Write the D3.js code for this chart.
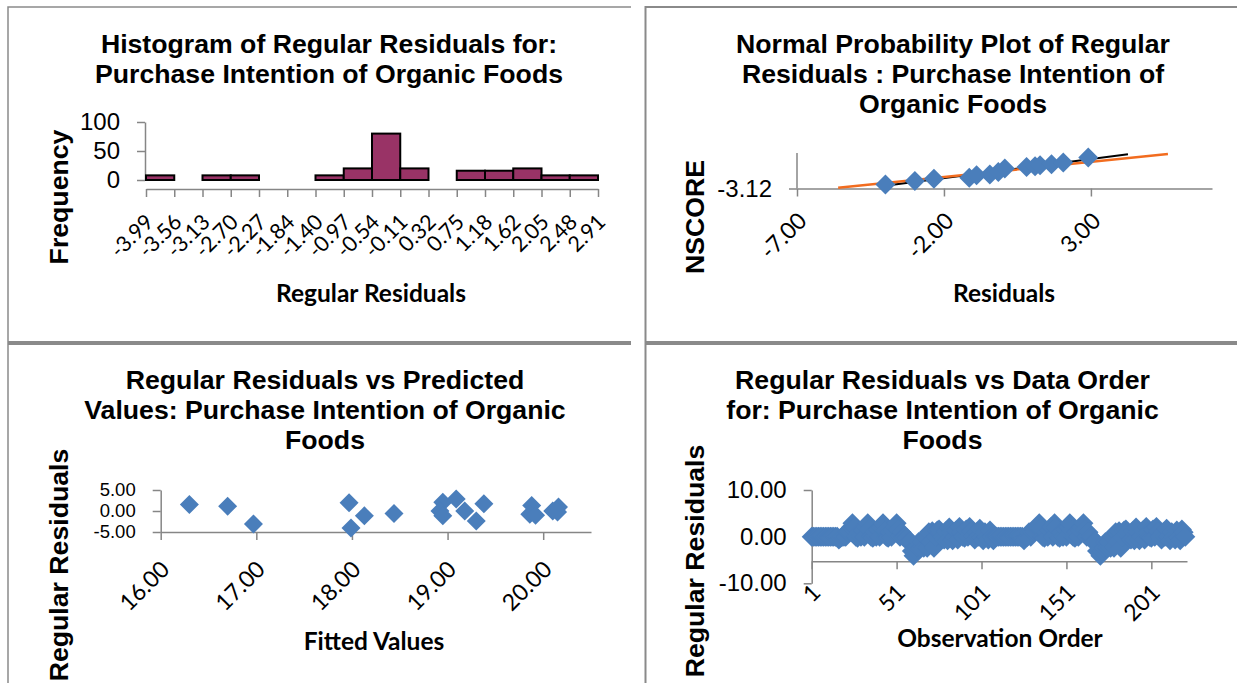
<!DOCTYPE html>
<html><head><meta charset="utf-8">
<script src="https://cdn.jsdelivr.net/npm/d3@7"></script>
<style>
html,body{margin:0;padding:0;background:#fff;overflow:hidden;}
</style></head><body>
<svg id="c" width="1237" height="683"></svg>
<script>
// ---------- data ----------
const histTitle = ["Histogram of Regular Residuals for:", "Purchase Intention of Organic Foods"];
const histEdgeLabels = ["-3.99","-3.56","-3.13","-2.70","-2.27","-1.84","-1.40","-0.97","-0.54","-0.11","0.32","0.75","1.18","1.62","2.05","2.48","2.91"];
const histCounts = [8,0,8,8,0,0,8,20,80,20,0,16,16,20,8,8];
const histYTicks = [0,50,100];

const npTitle = ["Normal Probability Plot of Regular", "Residuals : Purchase Intention of", "Organic Foods"];
const npResiduals = [-3.99,-2.99,-2.34,-1.14,-0.89,-0.44,-0.15,0.07,0.81,1.10,1.27,1.66,2.06,2.91];
const npScores    = [-2.41,-1.82,-1.39,-1.21,-0.80,-0.68,-0.21,0.39,0.68,0.80,0.98,1.16,1.46,2.35];
const npRefLineX = [-5.6, 5.62];
const npRefLineY = [-3.0, 2.94];
const npFitLineX = [-4.2, 4.26];
const npFitLineY = [-2.76, 2.89];
const npXTicks = [-7,-2,3];
const npYTicks = [-3.12];

const fvTitle = ["Regular Residuals vs Predicted", "Values: Purchase Intention of Organic", "Foods"];
const fittedValues    = [16.30,16.70,16.97,17.97,18.13,17.99,18.44,18.95,18.92,18.95,19.09,19.18,19.30,19.38,19.88,19.86,19.92,20.10,20.16,20.15];
const fittedResiduals = [1.55,1.16,-3.08,1.94,-1.16,-4.07,-0.60,2.08,0.00,-1.16,2.87,0.00,-2.38,1.71,1.32,-0.76,-1.00,0.00,0.93,-0.23];
const fvXTicks = [16,17,18,19,20];
const fvYTicks = [-5,0,5];

const orderTitle = ["Regular Residuals vs Data Order", "for: Purchase Intention of Organic", "Foods"];
const orderResiduals = [
 0,0,0,0,0,0,0,0,0,0,
 0,0,0,0,0,0,-0.6,-0.23,0,0,
 0,0.93,1.16,1.94,2.87,2.08,0,-0.23,0.93,0,
 1.32,0,2.08,2.87,1.71,0,-0.23,0.93,0,1.55,
 0,1.94,2.87,1.32,0,-0.23,0.93,0,1.32,2.08,
 2.87,1.55,0,0.93,0,0,-0.23,-1.16,-1.0,-3.08,
 -4.07,-3.08,-2.38,-1.16,-2.38,-1.16,-2.38,0,-2.38,0.93,
 -1.16,1.16,-2.38,0,1.32,1.55,0.93,0,-0.6,1.16,
 -0.76,1.94,0.93,-0.76,0,1.32,-0.6,2.08,0.93,0,
 -0.23,1.55,0,2.08,1.16,0,-0.6,0.93,0,1.71,
 0,-0.76,0.93,0,-0.6,1.32,0,-0.76,0,0,
 0,0,0,0,0,0,0,0,0,0,
 0,0,0,0,0,-0.76,0,0,0.93,0,
 0.93,1.16,1.94,2.08,2.87,1.71,0,-0.23,0.93,0,
 1.32,2.08,0,2.87,1.94,0,-0.23,0.93,0,1.55,
 0,2.08,2.87,1.32,0,-0.23,0.93,0,1.32,2.08,
 2.87,1.55,0,0.93,0,-0.23,-1.16,-1.0,-3.08,-3.08,
 -4.07,-3.08,-2.38,-1.16,-2.38,-1.16,-2.38,0,-2.38,0.93,
 -1.16,1.16,-2.38,0,1.32,1.55,0.93,0,-0.6,1.16,
 -0.76,1.94,0.93,-0.76,0,1.32,-0.6,2.08,0.93,0,
 -0.23,1.55,0,2.08,1.16,0,-0.6,0.93,0,1.71,
 0,-0.76,0.93,0,-0.6,1.32,0,-0.76,1.55,0.93,0
];
const orderXTicks = [1,51,101,151,201];
const orderYTicks = [-10,0,10];

// ---------- style ----------
const AX = "#868686";
const FRAME = "#8a8a8a";
const BLUE = "#4a7ebb";
const BAR = "#993366";
const ARIAL = "'Liberation Sans', Arial, sans-serif";
const CALIBRI = "Lato, 'Liberation Sans', sans-serif";

const svg = d3.select("#c");
svg.append("rect").attr("width",1237).attr("height",683).attr("fill","#fff");

// panel frames
const fr = svg.append("g").attr("stroke",FRAME).attr("fill","none");
fr.append("path").attr("d","M8,683 V7 H631").attr("stroke-width",1.5);
fr.append("path").attr("d","M645.5,683 V7 H1237").attr("stroke-width",2);
svg.append("rect").attr("x",8).attr("y",341).attr("width",623).attr("height",4).attr("fill",FRAME);
svg.append("rect").attr("x",645).attr("y",341).attr("width",592).attr("height",4).attr("fill",FRAME);

function title(lines, cx, y0){
  const t = svg.append("text").attr("text-anchor","middle").attr("font-family",ARIAL)
    .attr("font-weight","bold").attr("font-size",26.67).attr("fill","#000");
  lines.forEach((l,i)=>t.append("tspan").attr("x",cx).attr("y",y0+i*30).text(l));
}
function yTitle(txt, cx, cy){
  svg.append("text").attr("transform",`translate(${cx},${cy}) rotate(-90)`)
    .attr("text-anchor","middle").attr("dy","0.36em").attr("font-family",ARIAL)
    .attr("font-weight","bold").attr("font-size",26.67).attr("fill","#000").text(txt);
}
function xTitle(txt, cx, base){
  svg.append("text").attr("x",cx).attr("y",base).attr("text-anchor","middle")
    .attr("font-family",CALIBRI).attr("font-weight","bold").attr("font-size",24.5).attr("fill","#000").text(txt);
}
function styleAxis(g, fs){
  g.selectAll("path,line").attr("stroke",AX).attr("stroke-width",1.5);
  g.attr("font-family",ARIAL).attr("font-size",fs || 24);
  g.selectAll("text").attr("fill","#000");
}
function yAxis(scale, ticks, fmt, x, fs){
  const g = svg.append("g").attr("transform",`translate(${x},0)`)
    .call(d3.axisLeft(scale).tickValues(ticks).tickFormat(fmt).tickSizeInner(8).tickSizeOuter(0).tickPadding(17));
  styleAxis(g, fs);
  return g;
}
function xAxisRot(scale, ticks, fmt, y, dx, dy, fs){
  const ax = d3.axisBottom(scale).tickSizeInner(8).tickSizeOuter(0);
  if (ticks) ax.tickValues(ticks);
  if (fmt) ax.tickFormat(fmt);
  const g = svg.append("g").attr("transform",`translate(0,${y})`).call(ax);
  styleAxis(g);
  g.selectAll(".tick text").attr("x",null).attr("y",null).attr("dy","0.35em")
    .attr("text-anchor","end").attr("font-family",CALIBRI).attr("font-size",fs)
    .attr("transform",`translate(${dx},${dy}) rotate(-45)`);
  return g;
}
const diamond = (D)=>d3.symbol().type(d3.symbolSquare).size(D*D/2)();
const f2 = d => d.toFixed(2);
const f0 = d => String(d);

// ---------- Panel 1: histogram ----------
title(histTitle, 329, 53);
yTitle("Frequency", 58, 197);
xTitle("Regular Residuals", 371, 302);
{
  const y = d3.scaleLinear().domain([0,100]).range([180,122]);
  const x = d3.scalePoint().domain(histEdgeLabels).range([146,598]);
  yAxis(y, histYTicks, f0, 145);
  xAxisRot(x, null, null, 189, 3, 29, 21.5);
  const bins = histCounts.map((c,i)=>({c, lo: histEdgeLabels[i], hi: histEdgeLabels[i+1]})).filter(d=>d.c>0);
  svg.append("g").selectAll("rect").data(bins).join("rect")
    .attr("x",d=>x(d.lo))
    .attr("width",d=>x(d.hi)-x(d.lo))
    .attr("y",d=>y(d.c)).attr("height",d=>y(0)-y(d.c))
    .attr("fill",BAR).attr("stroke","#000").attr("stroke-width",2);
}

// ---------- Panel 2: normal probability plot ----------
title(npTitle, 953, 53);
yTitle("NSCORE", 694, 217);
xTitle("Residuals", 1004, 302);
{
  const x = d3.scaleLinear().domain([-7,7.12]).range([797,1212]);
  const y = d3.scaleLinear().domain([-3.12,3.12]).range([188.5,153]);
  xAxisRot(x, npXTicks, f2, 188.5, 5, 28, 23);
  const ya = yAxis(y, npYTicks, f2, 797);
  ya.select(".domain").attr("d",`M0,${y(-3.12)}V${y(3.12)}`);
  const line = d3.line().x(d=>x(d[0])).y(d=>y(d[1]));
  svg.append("path").attr("d",line(npFitLineX.map((v,i)=>[v,npFitLineY[i]])))
    .attr("stroke","#000").attr("stroke-width",2).attr("fill","none");
  svg.append("path").attr("d",line(npRefLineX.map((v,i)=>[v,npRefLineY[i]])))
    .attr("stroke","#f26c1f").attr("stroke-width",2.5).attr("fill","none");
  svg.append("g").selectAll("path").data(npResiduals).join("path")
    .attr("d",diamond(20))
    .attr("transform",(d,i)=>`translate(${x(d)},${y(npScores[i])}) rotate(45)`)
    .attr("fill",BLUE);
}

// ---------- Panel 3: residuals vs fitted ----------
title(fvTitle, 325, 388.5);
yTitle("Regular Residuals", 58, 565);
xTitle("Fitted Values", 374, 650);
{
  const x = d3.scaleLinear().domain([16,20.5]).range([160.7,591]);
  const y = d3.scaleLinear().domain([-5,5]).range([532,490]);
  xAxisRot(x, fvXTicks, f2, 532, 4, 33, 23);
  yAxis(y, fvYTicks, f2, 160.7, 18.5);
  svg.append("g").selectAll("path").data(fittedValues).join("path")
    .attr("d",diamond(19))
    .attr("transform",(d,i)=>`translate(${x(d)},${y(fittedResiduals[i])}) rotate(45)`)
    .attr("fill",BLUE);
}

// ---------- Panel 4: residuals vs order ----------
title(orderTitle, 942.5, 388.5);
yTitle("Regular Residuals", 694, 561);
xTitle("Observation Order", 1000, 647);
{
  const x = d3.scaleLinear().domain([1,222]).range([811.7,1187]);
  const y = d3.scaleLinear().domain([-10,10]).range([583.3,490]);
  xAxisRot(x, orderXTicks, f0, y(-5.3), 4, 27, 23);
  yAxis(y, orderYTicks, f2, 811.7);
  svg.append("g").selectAll("path").data(orderResiduals).join("path")
    .attr("d",diamond(20))
    .attr("transform",(d,i)=>`translate(${x(i+1)},${y(d)}) rotate(45)`)
    .attr("fill",BLUE);
}
</script>
</body></html>
